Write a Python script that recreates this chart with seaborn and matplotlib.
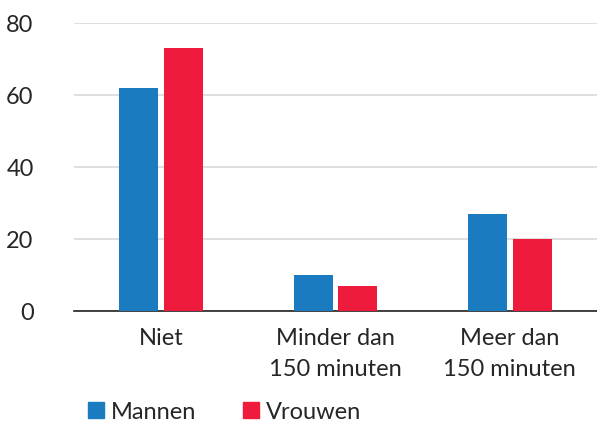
import pandas as pd
import seaborn as sns
import matplotlib.pyplot as plt
from matplotlib.lines import Line2D

# data
categories = ['Niet', 'Minder dan\n150 minuten', 'Meer dan\n150 minuten']
mannen = [62, 10, 27]
vrouwen = [73, 7, 20]
series = ['Mannen', 'Vrouwen']
colors = {'Mannen': '#1b7bc1', 'Vrouwen': '#ee1b3c'}

df = pd.DataFrame({
    'cat': categories * 2,
    'value': mannen + vrouwen,
    'groep': ['Mannen'] * 3 + ['Vrouwen'] * 3,
})

sns.set_style('white')
plt.rcParams['font.family'] = ['Lato', 'DejaVu Sans']

fig = plt.figure(figsize=(5.97, 4.24), dpi=100)
ax = fig.add_axes([74 / 597, 1 - 311 / 424, 1 - 74 / 597, 288 / 424])

sns.barplot(data=df, x='cat', y='value', hue='groep', palette=colors,
            saturation=1, width=0.51, gap=0.12, ax=ax, legend=False,
            edgecolor='none', linewidth=0, zorder=3)

ax.set_ylim(0, 80)
ax.set_yticks([0, 20, 40, 60, 80])
ax.yaxis.grid(True, color='#d9d9d9', linewidth=1.2, zorder=0)
ax.set_xlabel('')
ax.set_ylabel('')
for s in ['top', 'right', 'left']:
    ax.spines[s].set_visible(False)
ax.spines['bottom'].set_color('#222222')
ax.spines['bottom'].set_linewidth(1.2)
ax.tick_params(axis='y', length=0, pad=29, labelsize=17)
ax.tick_params(axis='x', length=0, pad=12, labelsize=17)
for lab in ax.get_xticklabels():
    lab.set_linespacing(1.6)

#legend below the chart
handles = [Line2D([0], [0], marker='s', linestyle='', markersize=11,
                  color=colors[s]) for s in series]
fig.legend(handles, series, loc='center left', bbox_to_anchor=(0.105, 0.028),
           ncol=2, frameon=False, fontsize=17, handletextpad=0.15,
           columnspacing=1.8, handlelength=1.0)

fig.savefig('out.png', dpi=100)
